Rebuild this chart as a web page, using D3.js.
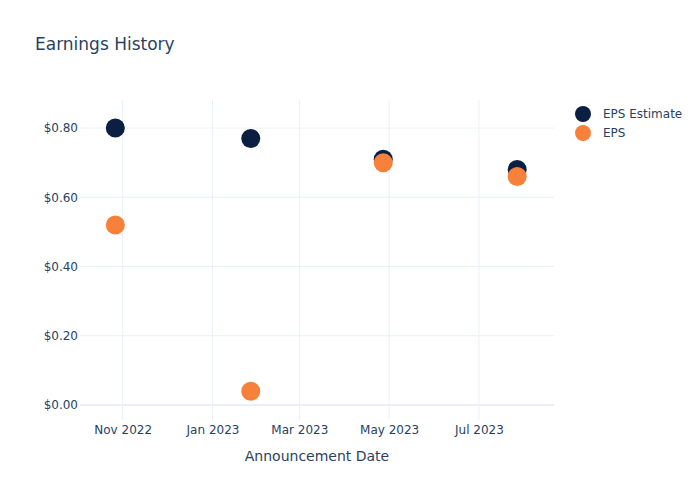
<!DOCTYPE html>
<html><head><meta charset="utf-8">
<script src="https://cdn.jsdelivr.net/npm/d3@7"></script>
<style>body{margin:0;background:#fff;} svg, svg text{font-family:"DejaVu Sans", sans-serif;}</style>
</head><body>
<svg id="c" width="700" height="500"></svg>
<script>
const dates = ["2022-10-27","2023-01-27","2023-04-27","2023-07-27"];
const epsEstimate = [0.80, 0.77, 0.71, 0.68];
const eps = [0.52, 0.04, 0.70, 0.66];
const yTicks = [0, 0.2, 0.4, 0.6, 0.8];
const xTickDates = ["2022-11-01","2023-01-01","2023-03-01","2023-05-01","2023-07-01"];
const seriesNames = ["EPS Estimate","EPS"];
const colors = ["#0b1f42","#f7813a"];

const parse = d3.utcParse("%Y-%m-%d");
const svg = d3.select("#c");
const L=80, R=554, T=100, B=420;
const x = d3.scaleUtc().domain([parse("2022-10-03"), parse("2023-08-21")]).range([L,R]);
const y = d3.scaleLinear().domain([-0.0433, 0.881]).range([B,T]);
const txt = "#2a3f5f", grid = "#ebf0f8";

// grid
svg.append("g").selectAll("line").data(xTickDates).join("line")
  .attr("x1",d=>x(parse(d))).attr("x2",d=>x(parse(d))).attr("y1",T).attr("y2",B)
  .attr("stroke",grid).attr("stroke-width",1);
svg.append("g").selectAll("line").data(yTicks).join("line")
  .attr("x1",L).attr("x2",R).attr("y1",d=>y(d)).attr("y2",d=>y(d))
  .attr("stroke",grid).attr("stroke-width",d=>d===0?2:1);

// axes
const xa = svg.append("g").attr("transform",`translate(0,${B})`)
  .call(d3.axisBottom(x).tickValues(xTickDates.map(parse)).tickFormat(d3.utcFormat("%b %Y")).tickSize(0).tickPadding(5));
const ya = svg.append("g").attr("transform",`translate(${L},0)`)
  .call(d3.axisLeft(y).tickValues(yTicks).tickFormat(d=>"$"+d3.format(".2f")(d)).tickSize(0).tickPadding(2));
[xa,ya].forEach(a=>{a.attr("font-family",null);a.select(".domain").remove();a.selectAll("text").attr("fill",txt).style("font-size","12px");});

// points
const groups = [epsEstimate, eps];
groups.forEach((vals,i)=>{
  svg.append("g").selectAll("circle").data(vals).join("circle")
    .attr("cx",(d,j)=>x(parse(dates[j]))).attr("cy",d=>y(d)).attr("r",9.5)
    .attr("fill",colors[i]);
});

// title
svg.append("text").attr("x",35).attr("y",50).attr("fill",txt).style("font-size","17px").text("Earnings History");
svg.append("text").attr("x",(L+R)/2).attr("y",461).attr("text-anchor","middle").attr("fill",txt).style("font-size","14px").text("Announcement Date");

// legend
const lg = svg.append("g");
seriesNames.forEach((n,i)=>{
  lg.append("circle").attr("cx",583).attr("cy",114+i*19).attr("r",8).attr("fill",colors[i]);
  lg.append("text").attr("x",603).attr("y",118+i*19).attr("fill",txt).style("font-size","12px").text(n);
});
</script>
</body></html>
